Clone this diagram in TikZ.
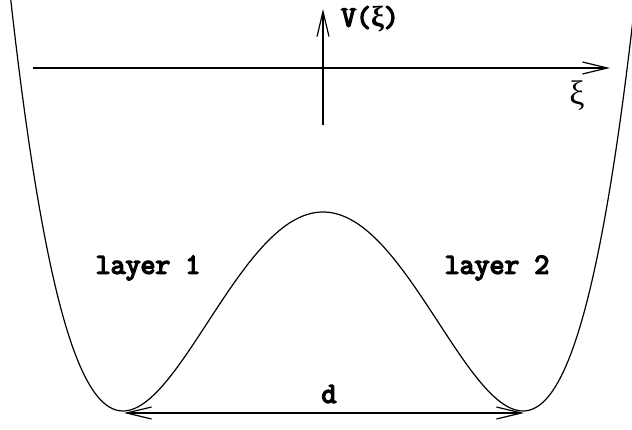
\documentclass[tikz,border=0pt]{standalone}
\usepackage{fontspec}
\setmonofont{Latin Modern Mono}[AutoFakeBold=5]
\newfontfamily\greekserif{Liberation Serif}
\usetikzlibrary{arrows.meta}
\tikzset{
  axis/.style={line width=1.4pt,-{Straight Barb[length=25pt,width=12pt,line width=1.2pt]}},
  dist/.style={line width=1.4pt,{Straight Barb[length=25pt,width=12pt,line width=1.2pt]}-{Straight Barb[length=25pt,width=12pt,line width=1.2pt]}},
  curve/.style={line width=1.2pt},
  lbl/.style={font=\fontsize{29}{31}\selectfont\ttfamily\bfseries, inner sep=0pt}
}
\begin{document}
\begin{tikzpicture}[x=1pt,y=-1pt]
\useasboundingbox (0,0) rectangle (632,430);
\begin{scope}
\clip (0,0) rectangle (632,430);
\draw[curve] plot[domain=-1.57:1.57,samples=200,smooth] ({323+200*\x},{411-199*(\x*\x-1)*(\x*\x-1)});
\end{scope}
\coordinate (hl) at (33,68);
\coordinate (hr) at (610,68);
\coordinate (vb) at (323,125);
\coordinate (vt) at (323,9);
\coordinate (ml) at (124,413);
\coordinate (mr) at (524,413);
\draw[axis] (hl) -- (hr);
\draw[axis] (vb) -- (vt);
\draw[dist] (ml) -- (mr);
\node[lbl] (V) at (370,19) {V({\greekserif\bfseries ξ})};
\node[inner sep=0pt,font=\fontsize{34}{36}\selectfont\greekserif] (xi) at (577,96) {ξ};
\node[lbl] (l1) at (148,268) {layer 1};
\node[lbl] (l2) at (497,268) {layer 2};
\node[lbl] (d) at (329,394) {d};
\end{tikzpicture}
\end{document}
